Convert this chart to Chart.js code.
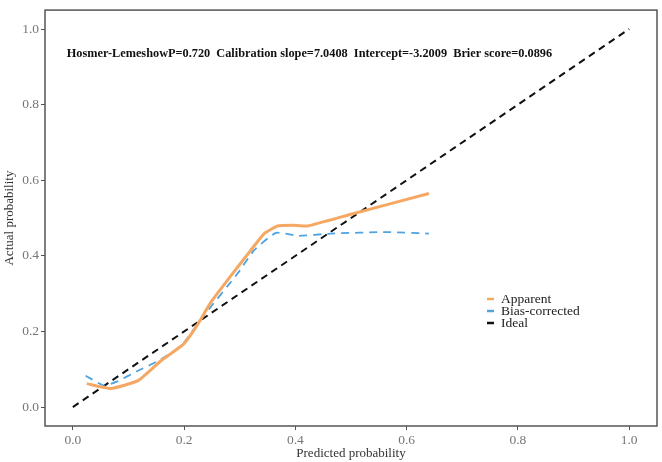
<!DOCTYPE html>
<html>
<head>
<meta charset="utf-8">
<script src="https://cdn.jsdelivr.net/npm/chart.js@4"></script>
<style>
  html, body { margin: 0; padding: 0; background: #fff; }
  #wrap { width: 662px; height: 462px; }
</style>
</head>
<body>
<div id="wrap"><canvas id="calibChart"></canvas></div>
<script>
// data
const predApparent = [0.025, 0.068, 0.117, 0.158, 0.2, 0.225, 0.248, 0.284, 0.32, 0.344, 0.368, 0.395, 0.422, 0.5, 0.64];
const actApparent = [0.062, 0.049, 0.07, 0.122, 0.168, 0.22, 0.277, 0.347, 0.415, 0.459, 0.479, 0.481, 0.479, 0.51, 0.565];

const predBias = [0.023, 0.056, 0.08, 0.117, 0.153, 0.194, 0.236, 0.297, 0.326, 0.365, 0.405, 0.464, 0.566, 0.64];
const actBias = [0.083, 0.057, 0.068, 0.096, 0.122, 0.161, 0.243, 0.355, 0.415, 0.461, 0.453, 0.459, 0.463, 0.459];

const predIdeal = [0, 1];
const actIdeal = [0, 1];

const tickValues = [0, 0.2, 0.4, 0.6, 0.8, 1.0];
const statsText = "Hosmer-LemeshowP=0.720  Calibration slope=7.0408  Intercept=-3.2009  Brier score=0.0896";

const serif = "'Liberation Serif', 'DejaVu Serif', serif";

function toPoints(xs, ys) {
    return xs.map((x, i) => ({ x: x, y: ys[i] }));
}

// frame around plot + stats text + legend inside the panel
const extras = {
    id: "extras",
    afterDraw(chart) {
        const ctx = chart.ctx;
        const a = chart.chartArea;
        const xs = chart.scales.x;
        const ys = chart.scales.y;

        ctx.save();
        ctx.strokeStyle = "#555";
        ctx.lineWidth = 1.5;
        ctx.strokeRect(a.left, a.top, a.right - a.left, a.bottom - a.top);

        ctx.fillStyle = "#111";
        ctx.font = "bold 12.3px " + serif;
        ctx.textBaseline = "middle";
        ctx.fillText(statsText, xs.getPixelForValue(-0.011), ys.getPixelForValue(0.935));

        // legend
        const lx = 487, ly = 299, gap = 12;
        ctx.font = "13.5px " + serif;
        chart.data.datasets.forEach((ds, i) => {
            const y = ly + i * gap;
            ctx.strokeStyle = ds.borderColor;
            ctx.lineWidth = 2.5;
            ctx.setLineDash([]);
            ctx.beginPath();
            ctx.moveTo(lx, y);
            ctx.lineTo(lx + 7, y);
            ctx.stroke();
            ctx.fillStyle = "#222";
            ctx.fillText(ds.label, lx + 14, y);
        });
        ctx.restore();
    }
};

const axisCommon = {
    type: "linear",
    min: -0.05,
    max: 1.05,
    afterBuildTicks: (axis) => {
        axis.ticks = tickValues.map(v => ({ value: v }));
    },
    grid: {
        drawOnChartArea: false,
        drawTicks: true,
        tickLength: 4,
        tickWidth: 1,
        tickColor: "#555"
    },
    border: { display: false },
    ticks: {
        color: "#777",
        font: { family: serif, size: 13.5 },
        padding: 2,
        callback: (v) => Number(v).toFixed(1)
    }
};

new Chart(document.getElementById("calibChart"), {
    type: "scatter",
    data: {
        datasets: [{
            label: "Apparent",
            data: toPoints(predApparent, actApparent),
            borderColor: "#F5A864",
            borderWidth: 3,
            showLine: true,
            pointRadius: 0,
            tension: 0.15
        }, {
            label: "Bias-corrected",
            data: toPoints(predBias, actBias),
            borderColor: "#4EA3E0",
            borderWidth: 1.8,
            borderDash: [8, 6],
            showLine: true,
            pointRadius: 0,
            tension: 0.15
        }, {
            label: "Ideal",
            data: toPoints(predIdeal, actIdeal),
            borderColor: "#111",
            borderWidth: 2,
            borderDash: [7, 5],
            showLine: true,
            pointRadius: 0
        }]
    },
    options: {
        responsive: true,
        maintainAspectRatio: false,
        animation: false,
        layout: { padding: { top: 2, right: 5, left: 0, bottom: 0 } },
        plugins: {
            legend: { display: false },
            tooltip: { enabled: false }
        },
        scales: {
            x: Object.assign({}, axisCommon, {
                title: {
                    display: true,
                    text: "Predicted probability",
                    color: "#333",
                    font: { family: serif, size: 13 },
                    padding: { top: 0, bottom: 1 }
                },
                afterFit: (axis) => { axis.height = 36; }
            }),
            y: Object.assign({}, axisCommon, {
                title: {
                    display: true,
                    text: "Actual probability",
                    color: "#333",
                    font: { family: serif, size: 13 },
                    padding: { top: 2, bottom: 0 }
                },
                afterFit: (axis) => { axis.width = 45; }
            })
        }
    },
    plugins: [extras]
});
</script>
</body>
</html>
